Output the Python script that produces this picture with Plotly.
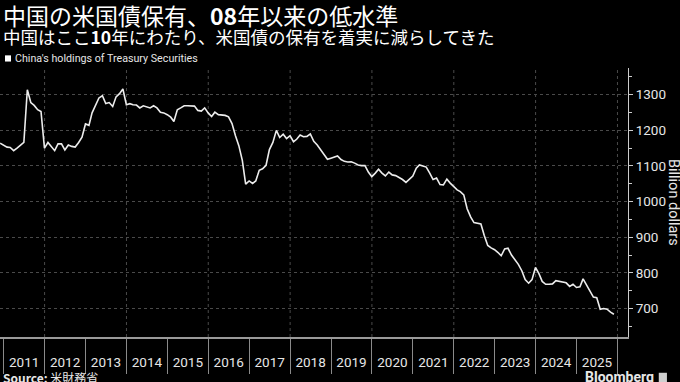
import pandas as pd
import plotly.graph_objects as go

# ---- data (billion dollars, month-end) ----
start_month = "2010-11-30"
h2010 = [1164, 1159]
h2011 = [1153, 1152, 1143, 1150, 1159, 1166, 1314, 1278, 1270, 1258, 1253, 1150]
h2012 = [1166, 1155, 1143, 1162, 1162, 1145, 1159, 1155, 1153, 1166, 1181, 1218]
h2013 = [1214, 1249, 1269, 1291, 1297, 1275, 1278, 1267, 1294, 1303, 1316, 1272]
h2014 = [1275, 1272, 1271, 1263, 1269, 1267, 1263, 1269, 1263, 1251, 1249, 1244]
h2015 = [1237, 1225, 1258, 1263, 1269, 1269, 1269, 1268, 1256, 1254, 1263, 1249]
h2016 = [1239, 1251, 1244, 1243, 1242, 1238, 1219, 1185, 1157, 1116, 1049, 1058]
h2017 = [1051, 1058, 1088, 1092, 1102, 1146, 1166, 1200, 1180, 1189, 1177, 1185]
h2018 = [1168, 1175, 1187, 1182, 1183, 1190, 1169, 1159, 1146, 1131, 1119, 1122]
h2019 = [1125, 1128, 1118, 1113, 1111, 1112, 1108, 1103, 1101, 1101, 1083, 1070]
h2020 = [1080, 1091, 1080, 1072, 1083, 1075, 1073, 1068, 1062, 1054, 1063, 1072]
h2021 = [1094, 1103, 1100, 1097, 1080, 1062, 1066, 1048, 1047, 1063, 1052, 1041]
h2022 = [1033, 1028, 1019, 980, 957, 941, 939, 937, 905, 877, 870, 865]
h2023 = [857, 848, 867, 869, 850, 838, 824, 806, 781, 771, 781, 815]
h2024 = [798, 776, 768, 768, 769, 778, 776, 774, 772, 762, 768, 759]
h2025 = [761, 783, 766, 748, 732, 730, 698, 700, 698, 690, 684]

holdings = (h2010 + h2011 + h2012 + h2013 + h2014 + h2015 + h2016 + h2017 + h2018
            + h2019 + h2020 + h2021 + h2022 + h2023 + h2024 + h2025)
try:
    months = pd.date_range(start_month, periods=len(holdings), freq="ME")
except Exception:
    months = pd.date_range(start_month, periods=len(holdings), freq="M")

y_ticks = [700, 800, 900, 1000, 1100, 1200, 1300]
grid_years = [2012, 2014, 2016, 2018, 2020, 2022, 2024, 2026]

series_name = "China's holdings of Treasury Securities"
title_html = "中国の米国債保有、<b>08</b>年以来の低水準"
subtitle_html = "中国はここ<b>10</b>年にわたり、米国債の保有を着実に減らしてきた"
source_html = "<b>Source:</b> 米財務省"

TXT = "#e6e6e6"
FONT = "Roboto, Liberation Sans, Arial, sans-serif"
CJK = "Noto Sans CJK JP, sans-serif"

fig = go.Figure()
fig.add_trace(go.Scatter(
    x=months, y=holdings, mode="lines", name=series_name,
    line=dict(color="#ececec", width=1.6), showlegend=False,
))

shapes = []
for yr in grid_years:
    shapes.append(dict(type="line", xref="x", yref="paper",
                       x0=f"{yr}-01-01", x1=f"{yr}-01-01", y0=0, y1=1,
                       line=dict(color="#4a4a4a", width=1, dash="dot"), layer="below"))
# legend square
shapes.append(dict(type="rect", xref="paper", yref="paper",
                   x0=0.008, x1=0.0175, y0=1.024, y1=1.047,
                   fillcolor="#ffffff", line=dict(width=0)))
# bloomberg icon
shapes.append(dict(type="rect", xref="paper", yref="paper",
                   x0=1.049, x1=1.062, y0=-0.17, y1=-0.133,
                   fillcolor="#cfcfcf", line=dict(width=0)))

annotations = [
    dict(text=title_html, x=0.002, y=1.196, xref="paper", yref="paper",
         xanchor="left", yanchor="middle", showarrow=False,
         font=dict(family=CJK, size=23, color="#ffffff")),
    dict(text=subtitle_html, x=0.002, y=1.117, xref="paper", yref="paper",
         xanchor="left", yanchor="middle", showarrow=False,
         font=dict(family=CJK, size=17.5, color="#ffffff")),
    dict(text=series_name, x=0.021, y=1.036, xref="paper", yref="paper",
         xanchor="left", yanchor="middle", showarrow=False,
         font=dict(family=FONT, size=10.7, color=TXT)),
    dict(text="Billion dollars", x=1.0725, y=0.5, xref="paper", yref="paper",
         xanchor="center", yanchor="middle", showarrow=False, textangle=90,
         font=dict(family=FONT, size=14.5, color=TXT)),
    dict(text=source_html, x=0.002, y=-0.15, xref="paper", yref="paper",
         xanchor="left", yanchor="middle", showarrow=False,
         font=dict(family=CJK, size=12, color=TXT)),
    dict(text="<b>Bloomberg</b>", x=1.045, y=-0.15, xref="paper", yref="paper",
         xanchor="right", yanchor="middle", showarrow=False,
         font=dict(family=FONT, size=14, color=TXT)),
]

fig.update_layout(
    width=680, height=382,
    margin=dict(l=0, r=52, t=68, b=45),
    paper_bgcolor="#000000", plot_bgcolor="#000000",
    shapes=shapes, annotations=annotations,
    xaxis=dict(
        type="date", range=["2010-11-29", "2026-04-05"], automargin=False,
        tick0="2011-01-01", dtick="M12", tickformat="%Y",
        ticklabelmode="period", ticks="outside", ticklen=35,
        tickcolor="#8a8a8a", tickwidth=1,
        showline=True, linecolor="#9a9a9a", linewidth=1.5,
        showgrid=False, zeroline=False,
        ticklabelstandoff=-23,
        tickfont=dict(family=FONT, size=13.5, color=TXT),
    ),
    yaxis=dict(
        side="right", range=[620, 1375], automargin=False,
        tickmode="array", tickvals=y_ticks,
        ticks="outside", ticklen=4, tickcolor="#cccccc",
        showline=True, linecolor="#cccccc", linewidth=1,
        showgrid=True, gridcolor="#4a4a4a", griddash="dot", gridwidth=1,
        zeroline=False,
        minor=dict(dtick=50, tick0=0, ticks="outside", ticklen=3,
                   tickcolor="#cccccc", showgrid=False),
        tickfont=dict(family=FONT, size=13.5, color=TXT),
    ),
)

fig.write_html("out.html", config={"displayModeBar": False},
               post_script="document.body.style.margin='0px';document.body.style.background='#000';")
